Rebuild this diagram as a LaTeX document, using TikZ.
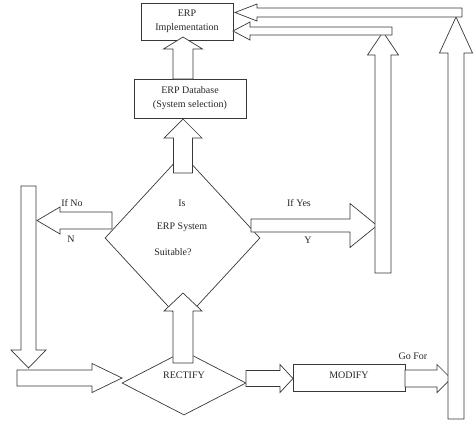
\documentclass[tikz,border=0pt]{standalone}
\usepackage{fontspec}
\setmainfont{Liberation Serif}
\usepackage{tikz}
\usetikzlibrary{shapes, shapes.geometric, calc}
\definecolor{linegray}{rgb}{0.22, 0.22, 0.22}
% hollow block arrow: start, tip, shaft half width, head half width, head length
\newcommand{\blockarr}[5]{%
  \coordinate (hb) at ($(#2)!#5!(#1)$);
  \draw[blockarrow] ($(#1)!#3!90:(#2)$) -- ($(hb)!#3!90:(#2)$) -- ($(hb)!#4!90:(#2)$)
    -- (#2) -- ($(hb)!#4!-90:(#2)$) -- ($(hb)!#3!-90:(#2)$) -- ($(#1)!#3!-90:(#2)$) -- cycle;
}

\begin{document}
\begin{tikzpicture}[x=1pt, y=-1pt,
    every node/.style={font=\fontsize{10}{14}\selectfont, text=black!85},
    box/.style={draw=linegray, line width=0.7pt, rectangle, align=center, inner sep=0pt},
    choice/.style={draw=linegray, line width=0.7pt, diamond, inner sep=0pt},
    blockarrow/.style={draw=linegray, line width=0.7pt, fill=white, line join=miter},
  ]
    \useasboundingbox (0,0) rectangle (474,421);
    \node[box, minimum width=92pt, minimum height=37pt] (impl) at (187,21.5) {ERP\\Implementation};
    \node[box, minimum width=112pt, minimum height=39pt] (db) at (190,98.5) {ERP Database\\(System selection)};
    \node[choice, minimum width=155pt, minimum height=168pt] (suit) at (182.5,238) {};
    \node[choice, minimum width=124pt, minimum height=64pt] (rect) at (184,383) {};
    \node[box, minimum width=112pt, minimum height=27pt] (modify) at (349,377.5) {};

    \node (suit-is) at (182,203) {Is};
    \node (suit-erp) at (182,227) {ERP System};
    \node (suit-ok) at (173,252) {Suitable?};
    \node (rect-txt) at (184,375) {RECTIFY};
    \node (modify-txt) at (349,375) {MODIFY};
    \node (no-txt) at (72,203) {If No};
    \node (n-txt) at (71,239) {N};
    \node (yes-txt) at (299,203) {If Yes};
    \node (y-txt) at (308,240) {Y};
    \node (gofor-txt) at (413,356) {Go For};

    % arrow ends
    \coordinate (dbup) at (183,79);
    \coordinate (implin) at (183,37);
    \coordinate (suitup) at (183,173);
    \coordinate (dbin) at (183,119);
    \coordinate (rectup) at (183,363);
    \coordinate (suitin) at (183,293);
    \coordinate (noout) at (112,220.5);
    \coordinate (noend) at (37,220.5);
    \coordinate (leftup) at (28.5,186);
    \coordinate (leftdown) at (28.5,368);
    \coordinate (lowstart) at (17,378);
    \coordinate (rectin) at (122,378);
    \coordinate (rectout) at (246,378.5);
    \coordinate (modin) at (293,378.5);
    \coordinate (modout) at (405,378.5);
    \coordinate (gofor) at (451,378.5);
    \coordinate (farbot) at (456,419);
    \coordinate (fartop) at (456,17);
    \coordinate (topstart) at (462,12.5);
    \coordinate (implin1) at (235,12.5);
    \coordinate (yesout) at (251,225.5);
    \coordinate (yesend) at (377,225.5);
    \coordinate (midbot) at (383,273);
    \coordinate (midtop) at (383,32);
    \coordinate (secstart) at (392,31);
    \coordinate (implin2) at (233,31);

    \blockarr{dbup}{implin}{10pt}{19.5pt}{12pt}
    \blockarr{suitup}{dbin}{9.5pt}{19pt}{19pt}
    \blockarr{rectup}{suitin}{10pt}{19pt}{18pt}
    \blockarr{noout}{noend}{8.5pt}{13.5pt}{23pt}
    \blockarr{leftup}{leftdown}{7.5pt}{17.5pt}{18pt}
    \blockarr{lowstart}{rectin}{8pt}{14.5pt}{30pt}
    \blockarr{rectout}{modin}{8pt}{14pt}{13pt}
    \blockarr{modout}{gofor}{8.5pt}{14pt}{14pt}
    \blockarr{farbot}{fartop}{8pt}{16.5pt}{36pt}
    \blockarr{topstart}{implin1}{4.5pt}{8.5pt}{22pt}
    \blockarr{yesout}{yesend}{6.5pt}{22pt}{27pt}
    \blockarr{midbot}{midtop}{8pt}{15.5pt}{23pt}
    \blockarr{secstart}{implin2}{4pt}{9pt}{17pt}
\end{tikzpicture}
\end{document}
